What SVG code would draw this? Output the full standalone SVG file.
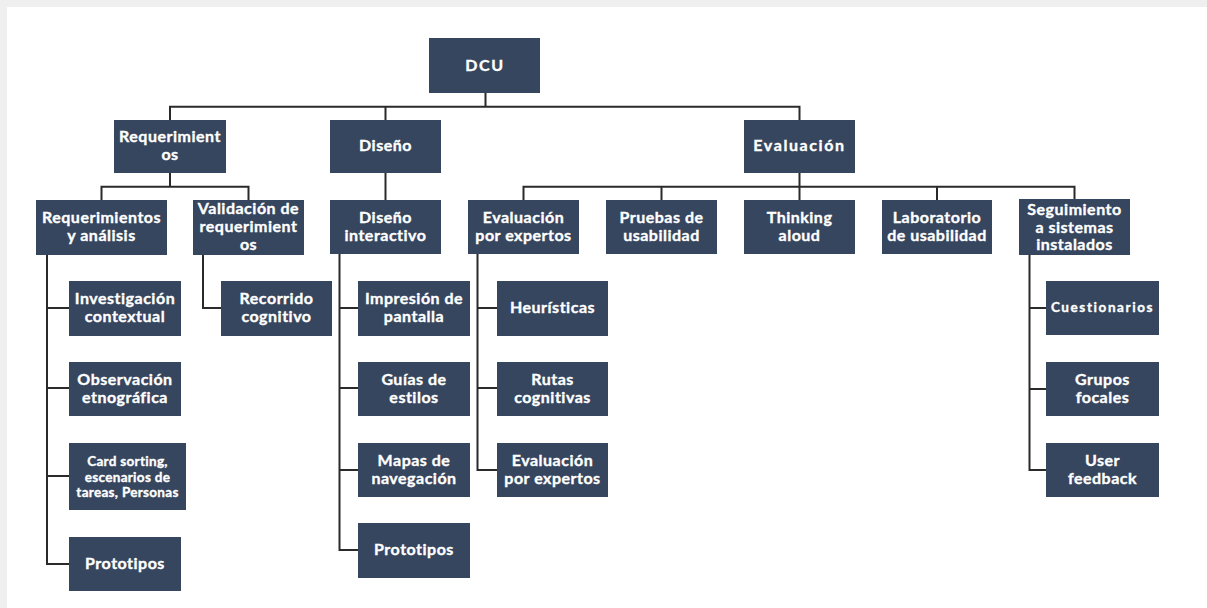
<svg xmlns="http://www.w3.org/2000/svg" width="1207" height="608" viewBox="0 0 1207 608">
<style>
.b{fill:#36465e;}
.t{fill:#ffffff;stroke:#ffffff;stroke-width:0.35;font-family:Lato,"Open Sans","Liberation Sans",sans-serif;font-weight:bold;font-size:16px;letter-spacing:0.5px;text-anchor:middle;}
.s{font-size:13.5px;letter-spacing:0.3px;}
.ls{letter-spacing:1.6px;}
.c{fill:none;stroke:#2a2a2a;stroke-width:2;}
</style>
<rect x="0" y="0" width="1207" height="608" fill="#efefef"/>
<rect x="7" y="7" width="1200" height="601" fill="#ffffff"/>
<g id="connectors" class="c">
<path d="M485.5 93V106.7M170 120V106.7H799.5V120M385.5 106.7V120"/>
<path d="M170 173V186.7M101.5 200V186.7H248.5V200"/>
<path d="M385.5 173V200"/>
<path d="M799.5 173V200M523.5 200V186.7H1074.5V200M661.5 186.7V200M937 186.7V200"/>
<path d="M47 255V564H69M47 308H69M47 388H69M47 476H69"/>
<path d="M203 255V308H221"/>
<path d="M339.5 254V550H358M339.5 308H358M339.5 388H358M339.5 470H358"/>
<path d="M477.5 254V470H497M477.5 308H497M477.5 388H497"/>
<path d="M1029.5 255V470H1046M1029.5 308H1046M1029.5 389H1046"/>
</g>
<g id="dcu"><rect class="b" x="429" y="38" width="111" height="55"/><text class="t ls" x="485" y="71">DCU</text></g>
<g id="requerimientos"><rect class="b" x="114" y="120" width="112" height="53"/><text class="t" x="170" y="142">Requerimient</text><text class="t" x="170" y="160">os</text></g>
<g id="diseno"><rect class="b" x="330" y="120" width="111" height="53"/><text class="t" x="385.5" y="151">Diseño</text></g>
<g id="evaluacion"><rect class="b" x="744" y="120" width="111" height="53"/><text class="t ls" x="799.5" y="151">Evaluación</text></g>
<g id="req-analisis"><rect class="b" x="36" y="200" width="131" height="55"/><text class="t" x="101.5" y="223">Requerimientos</text><text class="t" x="101.5" y="241">y análisis</text></g>
<g id="validacion"><rect class="b" x="193" y="200" width="111" height="55"/><text class="t" x="248.5" y="214">Validación de</text><text class="t" x="248.5" y="232">requerimient</text><text class="t" x="248.5" y="250">os</text></g>
<g id="diseno-interactivo"><rect class="b" x="330" y="200" width="111" height="54"/><text class="t" x="385.5" y="223">Diseño</text><text class="t" x="385.5" y="241">interactivo</text></g>
<g id="eval-expertos"><rect class="b" x="468" y="200" width="111" height="54"/><text class="t" x="523.5" y="223">Evaluación</text><text class="t" x="523.5" y="241">por expertos</text></g>
<g id="pruebas"><rect class="b" x="606" y="200" width="111" height="54"/><text class="t" x="661.5" y="223">Pruebas de</text><text class="t" x="661.5" y="241">usabilidad</text></g>
<g id="thinking"><rect class="b" x="744" y="200" width="111" height="54"/><text class="t" x="799.5" y="223">Thinking</text><text class="t" x="799.5" y="241">aloud</text></g>
<g id="laboratorio"><rect class="b" x="882" y="200" width="110" height="54"/><text class="t" x="937" y="223">Laboratorio</text><text class="t" x="937" y="241">de usabilidad</text></g>
<g id="seguimiento"><rect class="b" x="1019" y="199" width="111" height="56"/><text class="t" x="1074.5" y="215">Seguimiento</text><text class="t" x="1074.5" y="233">a sistemas</text><text class="t" x="1074.5" y="250">instalados</text></g>
<g id="investigacion"><rect class="b" x="69" y="281" width="112" height="55"/><text class="t" x="125" y="304">Investigación</text><text class="t" x="125" y="322">contextual</text></g>
<g id="observacion"><rect class="b" x="69" y="362" width="112" height="54"/><text class="t" x="125" y="385">Observación</text><text class="t" x="125" y="403">etnográfica</text></g>
<g id="card-sorting"><rect class="b" x="69" y="443" width="117" height="67"/><text class="t s" x="127.5" y="466">Card sorting,</text><text class="t s" x="127.5" y="481.5">escenarios de</text><text class="t s" x="127.5" y="497">tareas, Personas</text></g>
<g id="prototipos-req"><rect class="b" x="69" y="537" width="112" height="54"/><text class="t" x="125" y="569">Prototipos</text></g>
<g id="recorrido"><rect class="b" x="221" y="281" width="111" height="55"/><text class="t" x="276.5" y="304">Recorrido</text><text class="t" x="276.5" y="322">cognitivo</text></g>
<g id="impresion"><rect class="b" x="358" y="281" width="112" height="55"/><text class="t" x="414" y="304">Impresión de</text><text class="t" x="414" y="322">pantalla</text></g>
<g id="guias"><rect class="b" x="358" y="362" width="112" height="54"/><text class="t" x="414" y="385">Guías de</text><text class="t" x="414" y="403">estilos</text></g>
<g id="mapas"><rect class="b" x="358" y="443" width="112" height="54"/><text class="t" x="414" y="466">Mapas de</text><text class="t" x="414" y="484">navegación</text></g>
<g id="prototipos-dis"><rect class="b" x="358" y="523" width="112" height="55"/><text class="t" x="414" y="555">Prototipos</text></g>
<g id="heuristicas"><rect class="b" x="497" y="281" width="111" height="55"/><text class="t" x="552.5" y="313">Heurísticas</text></g>
<g id="rutas"><rect class="b" x="497" y="362" width="111" height="54"/><text class="t" x="552.5" y="385">Rutas</text><text class="t" x="552.5" y="403">cognitivas</text></g>
<g id="eval-expertos-2"><rect class="b" x="497" y="443" width="111" height="54"/><text class="t" x="552.5" y="466">Evaluación</text><text class="t" x="552.5" y="484">por expertos</text></g>
<g id="cuestionarios"><rect class="b" x="1046" y="281" width="113" height="54"/><text class="t s ls" x="1102.5" y="312">Cuestionarios</text></g>
<g id="grupos"><rect class="b" x="1046" y="362" width="113" height="54"/><text class="t" x="1102.5" y="385">Grupos</text><text class="t" x="1102.5" y="403">focales</text></g>
<g id="user-feedback"><rect class="b" x="1046" y="443" width="113" height="54"/><text class="t" x="1102.5" y="466">User</text><text class="t" x="1102.5" y="484">feedback</text></g>
</svg>
